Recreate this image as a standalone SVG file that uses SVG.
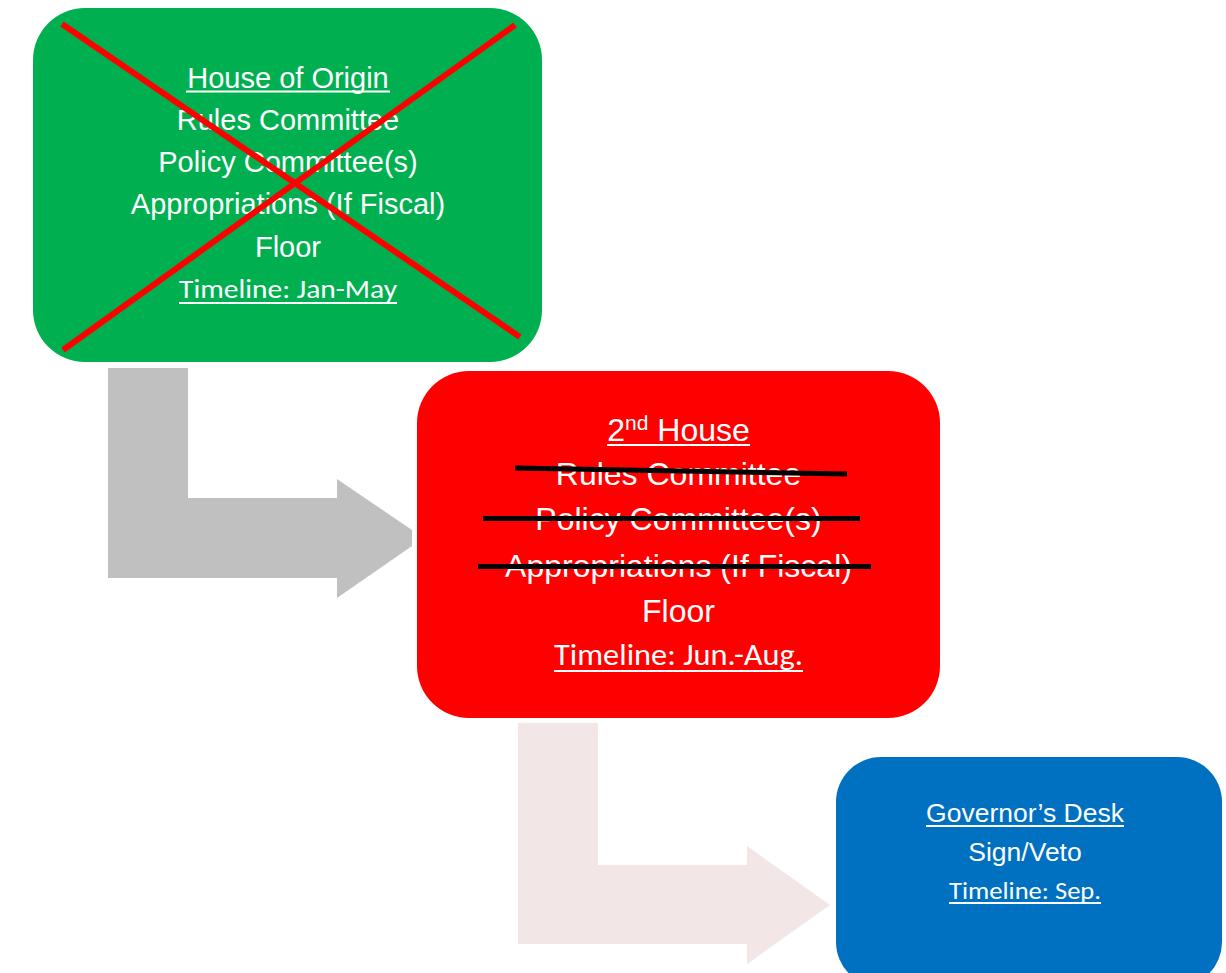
<svg xmlns="http://www.w3.org/2000/svg" width="1226" height="973" viewBox="0 0 1226 973">
  <style>
    .t { font-family: "Liberation Sans", Arial, sans-serif; fill: #ffffff; text-anchor: middle; }
    .c { font-family: Carlito, Calibri, Lato, "Open Sans", sans-serif; fill: #ffffff; text-anchor: middle; }
    .ul { stroke: #ffffff; stroke-width: 2; }
    .strike { stroke: #000000; stroke-width: 5; }
    .cross { stroke: #ff0000; stroke-width: 6; }
  </style>
  <rect width="1226" height="973" fill="#ffffff"/>
  <g id="connectors">
    <polygon id="arrow1" fill="#c0c0c0" points="108,368 188,368 188,498 337,498 337,479 412,530 412,546 337,598 337,578 108,578"/>
    <polygon id="arrow2" fill="#f2e6e6" points="518,723 598,723 598,865 747,865 747,846 830,905 747,964 747,944 518,944"/>
  </g>
  <g id="node-house-of-origin">
    <rect x="33" y="8" width="509" height="354" rx="52" ry="52" fill="#00b050"/>
    <text class="t" x="288" y="88" font-size="29">House of Origin</text>
    <line class="ul" x1="186" y1="91.5" x2="390" y2="91.5"/>
    <text class="t" x="288" y="130" font-size="29">Rules Committee</text>
    <text class="t" x="288" y="172" font-size="29">Policy Committee(s)</text>
    <text class="t" x="288" y="214" font-size="29">Appropriations (If Fiscal)</text>
    <text class="t" x="288" y="257" font-size="29">Floor</text>
    <text class="c" x="288" y="298" font-size="27" textLength="218" lengthAdjust="spacingAndGlyphs">Timeline: Jan-May</text>
    <line class="ul" x1="179" y1="303" x2="397" y2="303"/>
    <line class="cross" x1="62" y1="24" x2="520" y2="337"/>
    <line class="cross" x1="515" y1="25" x2="63" y2="350"/>
  </g>
  <g id="node-second-house">
    <rect x="417" y="371" width="523" height="347" rx="52" ry="52" fill="#ff0000"/>
    <text class="t" x="678.5" y="441" font-size="32">2<tspan font-size="21" dy="-11">nd</tspan><tspan dy="11"> House</tspan></text>
    <line class="ul" x1="607" y1="445" x2="750" y2="445"/>
    <text class="t" x="678.5" y="485" font-size="32">Rules Committee</text>
    <text class="t" x="678.5" y="530" font-size="32">Policy Committee(s)</text>
    <text class="t" x="678.5" y="577" font-size="32">Appropriations (If Fiscal)</text>
    <text class="t" x="678.5" y="622" font-size="32">Floor</text>
    <text class="c" x="678.5" y="665" font-size="30" textLength="249" lengthAdjust="spacingAndGlyphs">Timeline: Jun.-Aug.</text>
    <line class="ul" x1="554" y1="671" x2="803" y2="671"/>
    <line class="strike" x1="515" y1="468" x2="847" y2="474"/>
    <line class="strike" x1="483" y1="518.5" x2="860" y2="518.5"/>
    <line class="strike" x1="478" y1="566.5" x2="871" y2="566.5"/>
  </g>
  <g id="node-governors-desk">
    <rect x="836" y="757" width="386" height="230" rx="45" ry="45" fill="#0070c0"/>
    <text class="t" x="1025" y="822" font-size="26.5">Governor’s Desk</text>
    <line class="ul" x1="926" y1="826" x2="1124" y2="826"/>
    <text class="t" x="1025" y="861" font-size="26.5">Sign/Veto</text>
    <text class="c" x="1025" y="899" font-size="25" textLength="152" lengthAdjust="spacingAndGlyphs">Timeline: Sep.</text>
    <line class="ul" x1="949" y1="903" x2="1101" y2="903"/>
  </g>
</svg>
